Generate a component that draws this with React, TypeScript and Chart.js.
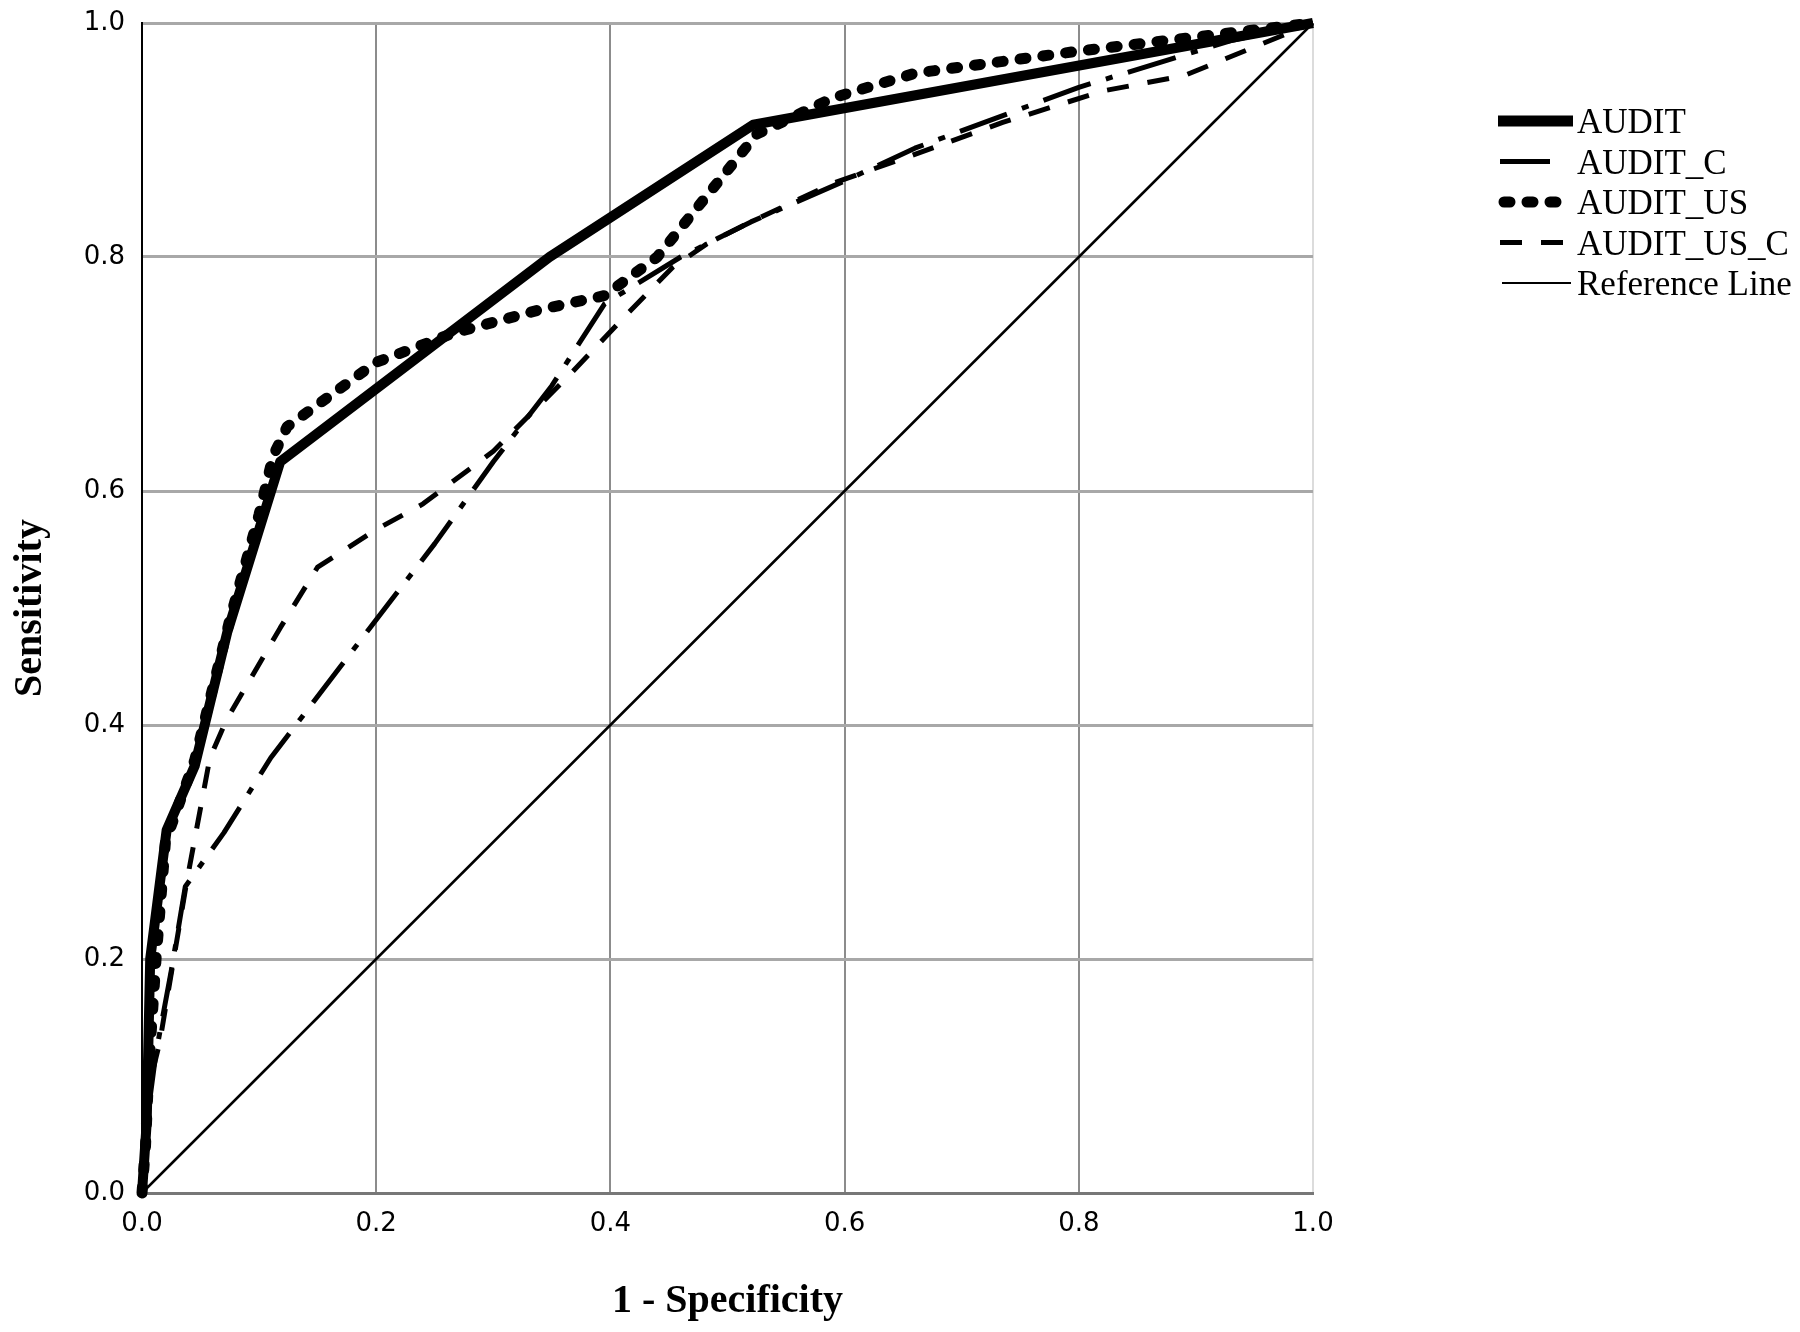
import React, { useEffect, useRef } from "react";
import { Chart, registerables } from "chart.js";

Chart.register(...registerables);

// ---- Data ----
const tickValues = [0, 0.2, 0.4, 0.6, 0.8, 1.0];

const auditX = [0, 0.004, 0.007, 0.021, 0.045, 0.073, 0.118, 0.348, 0.522, 1];
const auditY = [0, 0.06, 0.2, 0.31, 0.365, 0.48, 0.625, 0.8, 0.913, 1];

const auditCX = [0, 0.004, 0.012, 0.025, 0.037, 0.07, 0.11, 0.2, 0.25, 0.3, 0.35, 0.395, 0.46, 0.52, 0.6, 0.66, 0.8, 0.93, 1];
const auditCY = [0, 0.06, 0.12, 0.19, 0.262, 0.308, 0.372, 0.49, 0.555, 0.625, 0.69, 0.76, 0.8, 0.83, 0.865, 0.893, 0.945, 0.985, 1];

const auditUSX = [0, 0.003, 0.006, 0.012, 0.02, 0.045, 0.075, 0.1, 0.112, 0.124, 0.2, 0.266, 0.34, 0.395, 0.44, 0.525, 0.59, 0.66, 0.8, 1];
const auditUSY = [0, 0.04, 0.11, 0.2, 0.3, 0.37, 0.49, 0.58, 0.63, 0.655, 0.71, 0.735, 0.755, 0.767, 0.8, 0.905, 0.936, 0.957, 0.976, 1];

const auditUSCX = [0, 0.003, 0.008, 0.015, 0.038, 0.058, 0.072, 0.118, 0.15, 0.2, 0.24, 0.3, 0.363, 0.414, 0.453, 0.482, 0.522, 0.59, 0.658, 0.735, 0.821, 0.89, 1];
const auditUSCY = [0, 0.04, 0.1, 0.128, 0.265, 0.372, 0.404, 0.483, 0.535, 0.567, 0.589, 0.634, 0.697, 0.751, 0.791, 0.811, 0.831, 0.863, 0.887, 0.915, 0.942, 0.955, 1];

const refX = [0, 1];
const refY = [0, 1];

const seriesLabels = ["AUDIT", "AUDIT_C", "AUDIT_US", "AUDIT_US_C", "Reference Line"];

const toPoints = (xs: number[], ys: number[]) => xs.map((x, i) => ({ x, y: ys[i] }));

// line styles
const styles: Record<string, { width: number; dash: number[]; cap: CanvasLineCap; legendWidth: number; legendEnd: number; legendStart: number }> = {
  AUDIT: { width: 10, dash: [], cap: "butt", legendWidth: 11, legendStart: 1498, legendEnd: 1573 },
  AUDIT_C: { width: 5, dash: [50, 16, 7, 16], cap: "butt", legendWidth: 5, legendStart: 1500, legendEnd: 1553 },
  AUDIT_US: { width: 11, dash: [6, 17], cap: "round", legendWidth: 11, legendStart: 1504, legendEnd: 1567 },
  AUDIT_US_C: { width: 5, dash: [22, 19], cap: "butt", legendWidth: 5, legendStart: 1500, legendEnd: 1573 },
  "Reference Line": { width: 2.5, dash: [], cap: "butt", legendWidth: 2, legendStart: 1502, legendEnd: 1571 },
};

const legendPlugin = {
  id: "rocLegend",
  afterDraw(chart: any) {
    const ctx: CanvasRenderingContext2D = chart.ctx;
    ctx.save();
    const top = 121;
    const gap = 40.5;
    seriesLabels.forEach((label, i) => {
      const s = styles[label];
      const y = top + i * gap;
      ctx.beginPath();
      ctx.setLineDash(s.dash);
      ctx.lineCap = s.cap;
      ctx.lineWidth = s.legendWidth;
      ctx.strokeStyle = "#000";
      ctx.moveTo(s.legendStart, y);
      ctx.lineTo(s.legendEnd, y);
      ctx.stroke();
      ctx.setLineDash([]);
      ctx.fillStyle = "#000";
      ctx.font = '35px "Liberation Serif"';
      ctx.textAlign = "left";
      ctx.textBaseline = "alphabetic";
      ctx.fillText(label, 1577, y + 12);
    });
    ctx.restore();
  },
};

export default function App() {
  const canvasRef = useRef<HTMLCanvasElement | null>(null);

  useEffect(() => {
    if (!canvasRef.current) return;
    const mk = (label: string, xs: number[], ys: number[]) => ({
      label,
      data: toPoints(xs, ys),
      showLine: true,
      borderColor: "#000",
      backgroundColor: "#000",
      borderWidth: styles[label].width,
      borderDash: styles[label].dash,
      borderCapStyle: styles[label].cap,
      borderJoinStyle: "round" as CanvasLineJoin,
      pointRadius: 0,
      pointHoverRadius: 0,
      tension: 0,
      fill: false,
      clip: false as any,
    });

    const tickFont = { family: "DejaVu Sans", size: 26 };

    const chart = new Chart(canvasRef.current, {
      type: "scatter",
      data: {
        datasets: [
          mk("AUDIT_US", auditUSX, auditUSY),
          mk("AUDIT", auditX, auditY),
          mk("AUDIT_C", auditCX, auditCY),
          mk("AUDIT_US_C", auditUSCX, auditUSCY),
          mk("Reference Line", refX, refY),
        ],
      },
      options: {
        animation: false,
        responsive: false,
        maintainAspectRatio: false,
        devicePixelRatio: 1,
        layout: { autoPadding: false, padding: { top: 23, right: 487, left: 0, bottom: 0 } },
        plugins: {
          legend: { display: false },
          tooltip: { enabled: false },
        },
        scales: {
          x: {
            type: "linear",
            position: "bottom",
            min: 0,
            max: 1,
            afterBuildTicks: (scale: any) => {
              scale.ticks = tickValues.map((v) => ({ value: v }));
            },
            ticks: {
              callback: (v: any) => Number(v).toFixed(1),
              font: tickFont,
              color: "#000",
              padding: 16,
              maxRotation: 0,
              autoSkip: false,
            },
            grid: {
              drawTicks: false,
              color: (c: any) => (c.tick && c.tick.value === 1 ? "#dcdcdc" : "#8c8c8c"),
              lineWidth: 2,
            },
            border: { color: "#777", width: 3 },
            title: {
              display: true,
              text: "1 - Specificity",
              font: { family: "Liberation Serif", size: 40, weight: "bold" },
              color: "#000",
              padding: { top: 0, bottom: 6 },
            },
            afterFit: (scale: any) => {
              scale.height = 139;
              scale.paddingLeft = 0;
              scale.paddingRight = 0;
              scale.paddingTop = 0;
              scale.paddingBottom = 0;
            },
          },
          y: {
            type: "linear",
            position: "left",
            min: 0,
            max: 1,
            afterBuildTicks: (scale: any) => {
              scale.ticks = tickValues.map((v) => ({ value: v }));
            },
            ticks: {
              callback: (v: any) => Number(v).toFixed(1),
              font: tickFont,
              color: "#000",
              padding: 17,
              autoSkip: false,
            },
            grid: {
              drawTicks: false,
              color: "#a8a8a8",
              lineWidth: 3,
            },
            border: { color: "#000", width: 2 },
            title: {
              display: true,
              text: "Sensitivity",
              font: { family: "Liberation Serif", size: 40, weight: "bold" },
              color: "#000",
              padding: { top: 7, bottom: 0 },
            },
            afterFit: (scale: any) => {
              scale.width = 142;
              scale.paddingLeft = 0;
              scale.paddingRight = 0;
              scale.paddingTop = 0;
              scale.paddingBottom = 0;
            },
          },
        },
      } as any,
      plugins: [legendPlugin],
    });

    return () => {
      chart.destroy();
    };
  }, []);

  return (
    <div style={{ position: "absolute", left: 0, top: 0, width: 1800, height: 1332, background: "#fff" }}>
      <canvas ref={canvasRef} width={1800} height={1332} style={{ display: "block", width: 1800, height: 1332 }} />
    </div>
  );
}
